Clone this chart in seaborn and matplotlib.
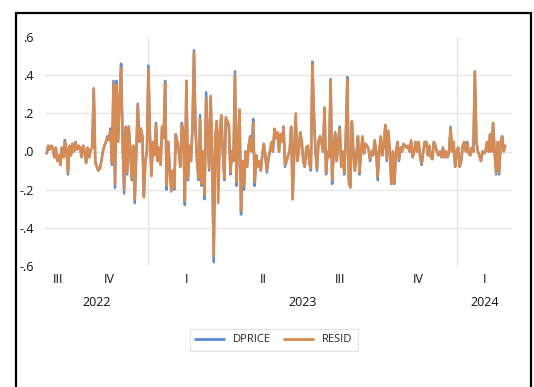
import pandas as pd
import matplotlib
matplotlib.use("Agg")
import matplotlib.pyplot as plt
from matplotlib.lines import Line2D
from matplotlib.patches import Rectangle
import seaborn as sns

# Data
START, END = "2022-09-03", "2024-02-27"
XMIN, XMAX = "2022-09-01", "2024-03-06"

DPRICE = [
    -0.01, 0.03, 0.01, 0.03, 0.02, -0.03, 0.02, -0.05, -0.02, -0.07, 0.02, -0.03, 0.06, 0.01,
    -0.12, 0.03, -0.02, 0.04, 0.0, 0.05, 0.01, 0.03, 0.02, -0.03, 0.03, 0.0,
    -0.06, 0.02, -0.03, 0.01, 0.02,
    0.33, -0.05, -0.08, -0.10, -0.09, -0.05, 0.0, 0.03, 0.05, 0.08, 0.06, 0.12, -0.07, 0.37, -0.19, 0.37, 0.05, 0.27, 0.46,
    0.05, -0.22, 0.13, -0.12, 0.13, 0.02, -0.15, 0.03, -0.27, 0.0, 0.25, 0.05, 0.12, 0.08, -0.23, -0.05, 0.0, 0.45,
    0.08, -0.12, 0.05, -0.02, 0.15, -0.05, 0.02, -0.07, 0.13, 0.07, 0.37, -0.20, 0.05, -0.08, -0.20, -0.10, -0.20,
    0.09, 0.05, 0.0, -0.08, 0.15, 0.10, -0.28, 0.37, -0.15, 0.03, -0.05, 0.12, 0.53, 0.12, -0.05, -0.15, 0.19, -0.18,
    0.0, -0.25, 0.31, 0.10, -0.10, 0.29, -0.05, -0.58, 0.08, 0.15, -0.20, 0.10, 0.18, 0.0, -0.15, 0.17, 0.15, 0.13,
    -0.12, 0.0, -0.05, 0.42, -0.18, 0.06, 0.20, -0.33, -0.05, -0.20, 0.0, -0.08, 0.03, 0.08, 0.0, 0.17, -0.18, -0.02,
    -0.08, -0.05, -0.10, -0.02, 0.04, -0.02, -0.11, -0.04, 0.0, 0.04, 0.0, 0.10, 0.07, 0.10, 0.0, 0.09,
    0.05, 0.13, -0.08, -0.05, -0.02, 0.0, 0.13, -0.25, 0.0, 0.18, -0.05, 0.0, 0.10, 0.05, -0.05, -0.08, 0.02, 0.03,
    -0.06, -0.10, 0.47, 0.20, 0.0, -0.10, 0.05, 0.08, 0.05, 0.0, 0.23, -0.12, 0.0, -0.03, 0.38, -0.17, 0.0, 0.10,
    -0.05, 0.05, 0.13, -0.08, 0.0, -0.12, 0.07, 0.39, -0.15, -0.18, 0.15, 0.0, -0.10, -0.02, 0.08, -0.12,
    0.0, 0.07, -0.01, 0.04, 0.03, 0.01, -0.05, 0.0, -0.02, 0.05, 0.0, -0.15, 0.0, 0.07, -0.02, 0.03, 0.13, -0.05,
    0.10, 0.0, -0.17, 0.0, -0.17, -0.01, 0.05, -0.05, 0.02, 0.0, 0.04, 0.03, 0.02, 0.03, 0.0, 0.05, -0.03, 0.0,
    0.05, 0.0, 0.05, -0.03, -0.07, 0.0, 0.05, 0.05, -0.02, 0.03, -0.03,
    -0.04, 0.05, 0.03, 0.0, -0.02, 0.0, -0.03, 0.02, -0.03, 0.0, -0.03, 0.0, 0.13, 0.0, 0.05, -0.08, 0.0, 0.02,
    -0.08, -0.05, 0.03, 0.05, 0.0, 0.05, -0.01, -0.02, 0.02, 0.0, 0.42, 0.05, 0.0, -0.02, -0.05, 0.0, -0.01, 0.0,
    0.05, 0.0, 0.09, 0.0, 0.15, 0.0, -0.12, 0.05, -0.12, 0.05, 0.08, 0.0, 0.03,
]

RESID = [
    -0.01, 0.03, 0.01, 0.03, 0.02, -0.03, 0.02, -0.05, -0.02, -0.07, 0.02, -0.03, 0.05, 0.01,
    -0.11, 0.03, -0.02, 0.04, 0.0, 0.05, 0.01, 0.03, 0.02, -0.03, 0.03, 0.0,
    -0.06, 0.02, -0.03, 0.01, 0.02,
    0.33, -0.06, -0.08, -0.10, -0.09, -0.05, 0.0, 0.03, 0.05, 0.07, 0.06, 0.11, -0.06, 0.36, -0.17, 0.35, 0.05, 0.27, 0.44,
    0.05, -0.20, 0.13, -0.11, 0.13, 0.02, -0.14, 0.03, -0.25, 0.0, 0.24, 0.05, 0.12, 0.08, -0.24, -0.05, 0.0, 0.43,
    0.08, -0.13, 0.05, -0.02, 0.14, -0.05, 0.02, -0.07, 0.13, 0.07, 0.36, -0.18, 0.05, -0.08, -0.21, -0.10, -0.19,
    0.09, 0.05, 0.0, -0.08, 0.14, 0.10, -0.26, 0.37, -0.14, 0.03, -0.05, 0.12, 0.52, 0.12, -0.05, -0.14, 0.17, -0.17,
    0.0, -0.23, 0.28, 0.10, -0.09, 0.29, -0.05, -0.55, 0.08, 0.16, -0.27, 0.10, 0.19, 0.0, -0.14, 0.18, 0.16, 0.14,
    -0.11, 0.0, -0.05, 0.40, -0.16, 0.06, 0.22, -0.31, -0.05, -0.18, 0.0, -0.08, 0.03, 0.07, 0.0, 0.15, -0.16, -0.02,
    -0.08, -0.05, -0.10, -0.02, 0.04, -0.02, -0.10, -0.04, 0.0, 0.05, 0.0, 0.12, 0.07, 0.10, 0.0, 0.09,
    0.05, 0.13, -0.07, -0.05, -0.02, 0.0, 0.13, -0.25, 0.0, 0.20, -0.05, 0.0, 0.10, 0.05, -0.05, -0.08, 0.02, 0.03,
    -0.06, -0.09, 0.46, 0.20, 0.0, -0.09, 0.05, 0.08, 0.05, 0.0, 0.23, -0.11, 0.0, -0.03, 0.37, -0.15, 0.0, 0.10,
    -0.05, 0.06, 0.12, -0.08, 0.0, -0.11, 0.07, 0.38, -0.17, -0.19, 0.16, 0.0, -0.10, -0.02, 0.08, -0.11,
    0.0, 0.08, -0.01, 0.04, 0.03, 0.01, -0.04, 0.0, -0.02, 0.06, 0.0, -0.13, 0.0, 0.08, -0.02, 0.04, 0.14, -0.04,
    0.11, 0.0, -0.17, 0.0, -0.17, -0.01, 0.05, -0.04, 0.02, 0.0, 0.04, 0.03, 0.02, 0.03, 0.0, 0.06, -0.03, 0.0,
    0.05, 0.0, 0.05, -0.03, -0.06, 0.0, 0.05, 0.05, -0.02, 0.03, -0.03,
    -0.04, 0.05, 0.03, 0.0, -0.02, 0.0, -0.03, 0.02, -0.03, 0.0, -0.03, 0.0, 0.12, 0.0, 0.05, -0.08, 0.0, 0.02,
    -0.08, -0.05, 0.03, 0.05, 0.0, 0.04, -0.01, -0.02, 0.02, 0.0, 0.42, 0.05, 0.0, -0.02, -0.05, 0.0, -0.01, 0.0,
    0.05, 0.0, 0.09, 0.0, 0.15, 0.0, -0.11, 0.05, -0.11, 0.05, 0.08, 0.0, 0.03,
]

SERIES = ["DPRICE", "RESID"]
COLORS = ["#5B8BD3", "#D98B4F"]
YTICKS = [-0.6, -0.4, -0.2, 0.0, 0.2, 0.4, 0.6]
YTICK_LABELS = ["-.6", "-.4", "-.2", ".0", ".2", ".4", ".6"]
GRID_Y = [-0.4, -0.2, 0.0, 0.2, 0.4]
ROMAN = {1: "I", 2: "II", 3: "III", 4: "IV"}
YEAR_LINES = ["2023-01-01", "2024-01-01"]

sns.set_theme(style="white")
plt.rcParams["font.family"] = ["Open Sans", "DejaVu Sans"]

dates = pd.date_range(START, END, periods=len(DPRICE))
df = pd.DataFrame({"date": dates, "DPRICE": DPRICE, "RESID": RESID})
long_df = df.melt(id_vars="date", var_name="series", value_name="value")

fig = plt.figure(figsize=(5.34, 3.87), dpi=100)
ax = fig.add_axes([45 / 534, 1 - 266 / 387, 467 / 534, 229 / 387])

xmin, xmax = pd.Timestamp(XMIN), pd.Timestamp(XMAX)

for y in GRID_Y:
    ax.axhline(y, color="#E6E6E6", lw=1.0, zorder=0)
for d in YEAR_LINES:
    ax.axvline(pd.Timestamp(d), color="#E6E6E6", lw=1.0, zorder=0)

sns.lineplot(data=long_df, x="date", y="value", hue="series", hue_order=SERIES,
             palette=COLORS, linewidth=1.8, ax=ax, legend=False)

ax.set_xlim(xmin, xmax)
ax.set_ylim(-0.6, 0.6)
ax.set_yticks(YTICKS)
ax.set_yticklabels(YTICK_LABELS)
ax.set_xticks([])
ax.set_xlabel("")
ax.set_ylabel("")
ax.tick_params(axis="y", length=0, pad=8, labelsize=9, labelcolor="#111111")
for s in ax.spines.values():
    s.set_visible(False)

# quarter and year labels below the axis
trans = ax.get_xaxis_transform()
for q in pd.period_range(xmin, xmax, freq="Q"):
    a = max(q.start_time, xmin)
    b = min(q.end_time, xmax)
    mid = a + (b - a) / 2
    ax.text(mid, -0.057, ROMAN[q.quarter], transform=trans, ha="center", va="center",
            fontsize=9, color="#111111")
for yr in pd.period_range(xmin, xmax, freq="Y"):
    a = max(yr.start_time, xmin)
    b = min(yr.end_time, xmax)
    mid = a + (b - a) / 2
    ax.text(mid, -0.16, str(yr.year), transform=trans, ha="center", va="center",
            fontsize=9, color="#111111")

handles = [Line2D([0], [0], color=c, lw=2) for c in COLORS]
leg = fig.legend(handles, SERIES, loc="center", bbox_to_anchor=(274 / 534, 1 - 340 / 387),
                 ncol=2, frameon=True, fancybox=False, edgecolor="#DDDDDD", fontsize=8,
                 handlelength=2.6, columnspacing=1.2, borderpad=0.5)
leg.get_frame().set_linewidth(0.8)

# outer frame of the screenshot
fig.patches.append(Rectangle((16 / 534, -0.02), (531 - 16) / 534, 1 - 13 / 387 + 0.02,
                             transform=fig.transFigure, fill=False, edgecolor="black", lw=1.6))

fig.savefig("out.png", dpi=100)
